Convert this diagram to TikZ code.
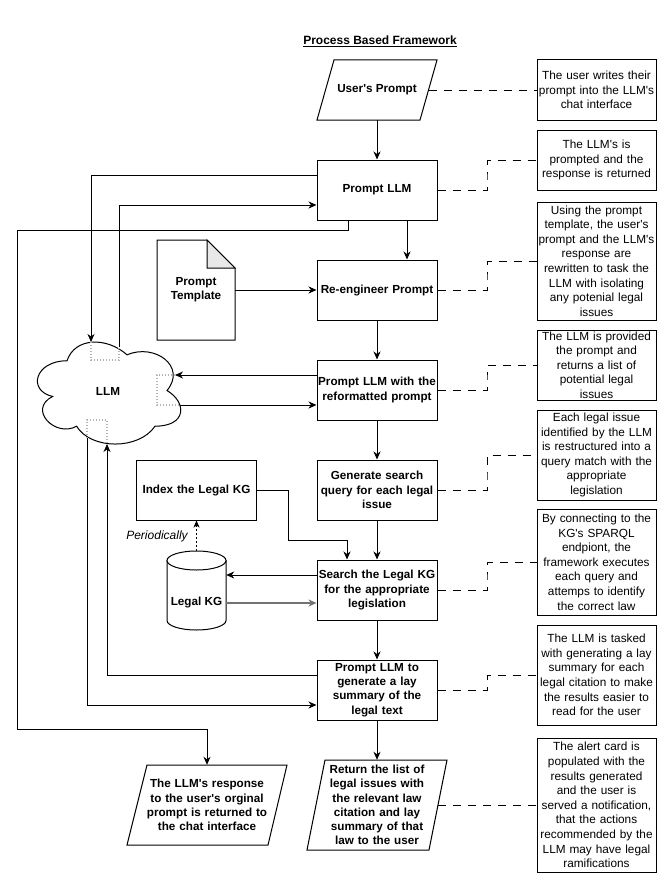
\documentclass[tikz,border=0pt]{standalone}
\usepackage{fontspec}
\setmainfont{Liberation Sans}[Ligatures=TeXOff]
\usetikzlibrary{arrows.meta,calc}
\begin{document}
\begin{tikzpicture}[x=1pt,y=-1pt,
  mainbox/.style={draw, line width=1pt, fill=white, minimum width=120pt, minimum height=60pt,
    text width=118pt, inner xsep=1pt, inner ysep=0pt, align=center,
    font=\fontsize{11.7}{14.3}\selectfont\bfseries},
  notebox/.style={draw, line width=1pt, fill=white, minimum width=119pt, text width=119pt,
    inner xsep=0pt, inner ysep=0pt, align=center, font=\fontsize{11.8}{14.6}\selectfont},
  txt/.style={inner sep=0pt, align=center, font=\fontsize{11.7}{14.3}\selectfont\bfseries},
  shp/.style={draw, line width=1pt, fill=white},
  arr/.style={line width=1pt, -{Stealth[length=8pt,width=7pt,inset=2.5pt]}},
  dsh/.style={line width=1pt, dash pattern=on 8pt off 7pt},
  dotg/.style={draw=gray!60, line width=1.3pt, dash pattern=on 1.3pt off 1.7pt},
]
\useasboundingbox (0,0) rectangle (668,883);
\fill[white] (0,0) rectangle (668,883);

% title
\node[font=\fontsize{12}{14}\selectfont\bfseries] (title) at (380,41) {\underline{Process Based Framework}};

% User's prompt parallelogram
\draw[shp] (334,60) -- (437,60) -- (420,120) -- (317,120) -- cycle;
\node[txt, minimum width=120pt, minimum height=60pt] (up) at (377,90) {User's Prompt};
\coordinate (upR) at (428.5,90);

% main column
\node[mainbox] (pllm) at (377,190) {Prompt LLM};
\node[mainbox] (reeng) at (377,290) {Re-engineer Prompt};
\node[mainbox] (reform) at (377,390) {Prompt LLM with the\\reformatted prompt};
\node[mainbox] (gen) at (377,490) {Generate search\\query for each legal\\issue};
\node[mainbox] (search) at (377,590) {Search the Legal KG\\for the appropriate\\legislation};
\node[mainbox] (lay) at (377,690) {Prompt LLM to\\generate a lay\\summary of the\\legal text};

% return parallelogram
\draw[shp] (325,760) -- (447,760) -- (429,850) -- (307,850) -- cycle;
\node[txt, text width=125pt, minimum height=90pt] (ret) at (377,805) {Return the list of\\legal issues with\\the relevant law\\citation and lay\\summary of that\\law to the user};
\coordinate (retR) at (438,805);

% LLM response parallelogram
\draw[shp] (147,765) -- (287,765) -- (268,845) -- (127,845) -- cycle;
\node[txt, text width=128pt, minimum height=80pt] (resp) at (207,805) {The LLM's response\\to the user's orginal\\prompt is returned to\\the chat interface};

% prompt template document
\draw[shp] (157,240) -- (207,240) -- (235,268) -- (235,340) -- (157,340) -- cycle;
\draw[line width=1pt, fill=gray!18] (207,240) -- (207,268) -- (235,268) -- cycle;
\node[txt, minimum width=78pt, minimum height=100pt] (tmpl) at (196,290) {Prompt\\Template};

% index box
\node[mainbox] (index) at (196.5,490) {Index the Legal KG};

% cylinder
\node[minimum width=59pt, minimum height=79pt, inner sep=0pt] (kgbody) at (196.5,590.5) {};
\draw[shp] (167,560.5) -- (167,620.5) arc[start angle=180, end angle=360, x radius=29.5pt, y radius=9.5pt] -- (226,560.5) -- cycle;
\draw[shp] (196.5,560.5) ellipse[x radius=29.5pt, y radius=9.5pt];
\node[txt] (kg) at (196.5,602) {Legal KG};

% cloud
\draw[shp] (67,360.75) .. controls (35,360.75) and (27,390.5) .. (52.6,396.45)
  .. controls (27,409.54) and (55.8,438.1) .. (76.6,426.2)
  .. controls (91,450) and (139,450) .. (155,426.2)
  .. controls (187,426.2) and (187,402.4) .. (167,390.5)
  .. controls (187,366.7) and (155,342.9) .. (127,354.8)
  .. controls (107,336.95) and (75,336.95) .. cycle;
\node[txt] (llm) at (108,391) {LLM};
\coordinate (cT1) at (91,342);
\coordinate (cT2) at (119,347);
\coordinate (cR1) at (175,375);
\coordinate (cR2) at (180,405);
\coordinate (cB1) at (87,438);
\coordinate (cB2) at (107,444);
\draw[dotg] (cT1) -- (91,360) -- (119,360) -- (cT2);
\draw[dotg] (cR1) -- (157,375) -- (157,405) -- (cR2);
\draw[dotg] (cB1) -- (87,420) -- (107,420) -- (cB2);

% annotation boxes
\node[notebox, minimum height=60pt] (n1) at (596.5,90) {The user writes their\\prompt into the LLM's\\chat interface};
\node[notebox, minimum height=60pt] (n2) at (596.5,160) {The LLM's is\\prompted and the\\response is returned};
\node[notebox, minimum height=118pt] (n3) at (596.5,261) {Using the prompt\\template, the user's\\prompt and the LLM's\\response are\\rewritten to task the\\LLM with isolating\\any potenial legal\\issues};
\node[notebox, minimum height=70pt] (n4) at (596.5,365) {The LLM is provided\\the prompt and\\returns a list of\\potential legal\\issues};
\node[notebox, minimum height=90pt] (n5) at (596.5,455) {Each legal issue\\identified by the LLM\\is restructured into a\\query match with the\\appropriate\\legislation};
\node[notebox, minimum height=106pt] (n6) at (596.5,562) {By connecting to the\\KG's SPARQL\\endpiont, the\\framework executes\\each query and\\attemps to identify\\the correct law};
\node[notebox, minimum height=100pt] (n7) at (596.5,675) {The LLM is tasked\\with generating a lay\\summary for each\\legal citation to make\\the results easier to\\read for the user};
\node[notebox, minimum height=134pt] (n8) at (596.5,805) {The alert card is\\populated with the\\results generated\\and the user is\\served a notification,\\that the actions\\recommended by the\\LLM may have legal\\ramifications};

% main flow arrows
\draw[arr] (up.south) -- (pllm.north);
\draw[arr] ([xshift=30pt]pllm.south) -- ([xshift=30pt]reeng.north);
\draw[arr] (reeng.south) -- (reform.north);
\draw[arr] (reform.south) -- (gen.north);
\draw[arr] (gen.south) -- (search.north);
\draw[arr] (search.south) -- (lay.north);
\draw[arr] (lay.south) -- (ret.north);
\draw[arr] (tmpl.east) -- (reeng.west);

% LLM connections
\draw[arr] ([yshift=15pt]pllm.west) -| (cT1);
\draw[arr] (cT2) |- ([yshift=-15pt]pllm.west);
\coordinate (j1) at (17,230);
\draw[arr] ([xshift=-29pt]pllm.south) |- (j1) |- ([yshift=35pt]resp.north) -- (resp.north);
\draw[arr] ([yshift=15pt]reform.west) -- (cR1);
\draw[arr] (cR2) -- ([yshift=-15pt]reform.west);
\draw[arr] ([yshift=15pt]lay.west) -| (cB2);
\draw[arr] (cB1) |- ([yshift=-15pt]lay.west);

% knowledge graph connections
\coordinate (j2) at (288,540);
\draw[arr] (index.east) -| (j2) -| ([xshift=-30pt]search.north);
\coordinate (s1) at ([yshift=15pt]search.west);
\coordinate (s2) at ([yshift=-13pt]search.west);
\draw[arr] (s1) -- (s1 -| kgbody.east);
\draw[arr, draw=black!55, line width=1.3pt] (s2 -| kgbody.east) -- (s2);
\draw[line width=0.9pt, dash pattern=on 2pt off 2pt, -{Stealth[length=7pt,width=6pt,inset=2pt]}] (kgbody.north) -- (index.south);
\node[font=\fontsize{12}{14}\selectfont\itshape] (per) at (157,536) {Periodically};

% dashed annotation connectors
\draw[dsh] (upR) -- (n1.west);
\draw[dsh] (pllm.east) -| ($(pllm.east)!.5!(n2.west)$) |- (n2.west);
\draw[dsh] (reeng.east) -| ($(reeng.east)!.5!(n3.west)$) |- (n3.west);
\draw[dsh] (reform.east) -| ($(reform.east)!.5!(n4.west)$) |- (n4.west);
\draw[dsh] (gen.east) -| ($(gen.east)!.5!(n5.west)$) |- (n5.west);
\draw[dsh] (search.east) -| ($(search.east)!.5!(n6.west)$) |- (n6.west);
\draw[dsh] (lay.east) -| ($(lay.east)!.5!(n7.west)$) |- (n7.west);
\draw[dsh] (retR) -- (n8.west);
\end{tikzpicture}
\end{document}
